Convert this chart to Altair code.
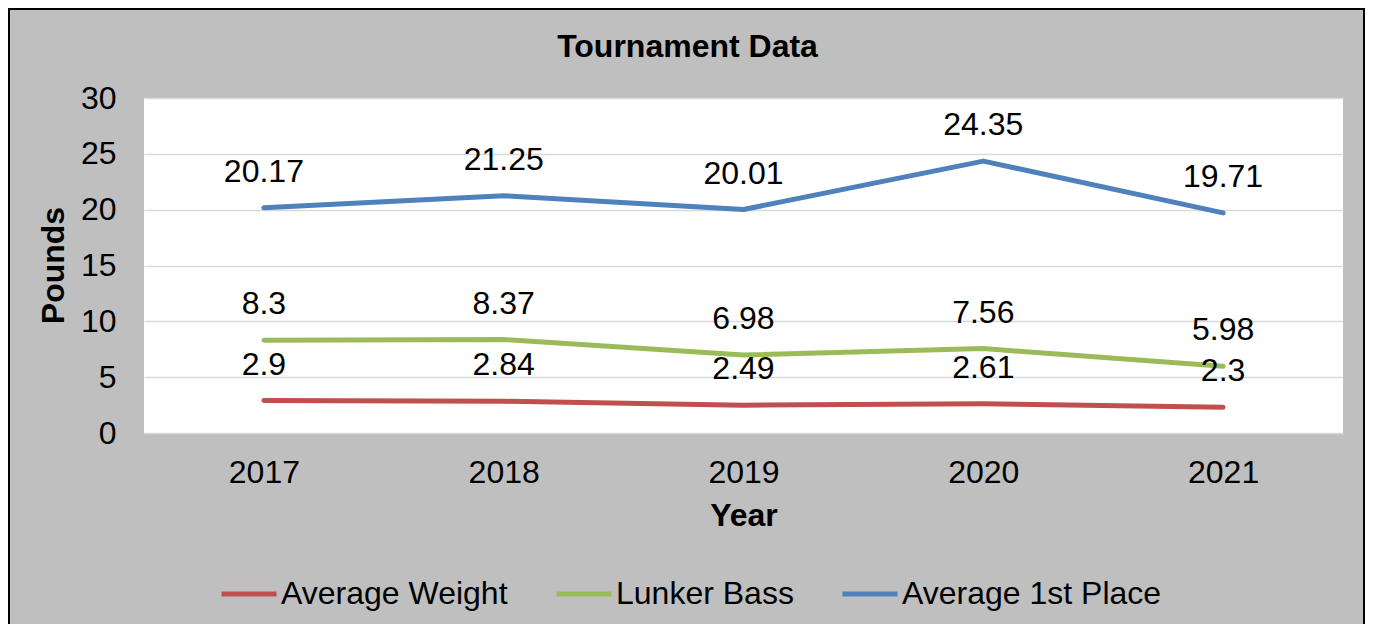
import altair as alt
import pandas as pd

years = ["2017", "2018", "2019", "2020", "2021"]
series_names = ["Average Weight", "Lunker Bass", "Average 1st Place"]
avg_weight = [2.9, 2.84, 2.49, 2.61, 2.3]
lunker_bass = [8.3, 8.37, 6.98, 7.56, 5.98]
avg_first = [20.17, 21.25, 20.01, 24.35, 19.71]
y_ticks = [0, 5, 10, 15, 20, 25, 30]
colors = ["#C0504D", "#9BBB59", "#4F81BD"]

rows = []
for name, vals in zip(series_names, [avg_weight, lunker_bass, avg_first]):
    for yr, v in zip(years, vals):
        rows.append({"Year": yr, "Series": name, "Pounds": v, "Label": f"{v:g}"})
df = pd.DataFrame(rows)

FONT = "Liberation Sans"
FS = 32
W, H = 1199, 335

x_enc = alt.X("Year:N", sort=years,
              scale=alt.Scale(type="point", padding=0.5),
              axis=alt.Axis(title="Year", labelAngle=0, ticks=False, domain=False,
                            grid=False, labelPadding=24, labelFontSize=FS,
                            labelFont=FONT, labelColor="black",
                            titleFont=FONT, titleFontSize=FS, titleFontWeight="bold",
                            titleColor="black", titleBaseline="alphabetic",
                            titleY=92))
y_enc = alt.Y("Pounds:Q", scale=alt.Scale(domain=[0, 30], nice=False),
              axis=alt.Axis(title="Pounds", values=y_ticks, ticks=False, domain=False,
                            grid=True, gridColor="#D9D9D9", gridWidth=1.5,
                            labelPadding=28, labelFontSize=FS, labelFont=FONT,
                            labelColor="black", titleFont=FONT, titleFontSize=FS,
                            titleFontWeight="bold", titleColor="black",
                            titleAngle=-90, titleBaseline="alphabetic",
                            titleX=-81, titleY=167, titleAlign="center"))

color_enc = alt.Color("Series:N",
                      scale=alt.Scale(domain=series_names, range=colors),
                      legend=alt.Legend(title=None, orient="none", direction="horizontal",
                                        legendX=75, legendY=466,
                                        symbolType="stroke", symbolSize=3025,
                                        symbolStrokeWidth=5, labelFontSize=FS,
                                        labelFont=FONT, labelColor="black",
                                        labelOffset=2, columnPadding=38,
                                        labelLimit=0))

lines = alt.Chart(df).mark_line(strokeWidth=5, strokeCap="round", strokeJoin="round").encode(
    x=x_enc, y=y_enc, color=color_enc, detail="Series:N")

labels = alt.Chart(df).mark_text(dy=-36, baseline="middle", align="center",
                                 font=FONT, fontSize=FS, color="black").encode(
    x=alt.X("Year:N", sort=years), y="Pounds:Q", text="Label:N")

border = alt.Chart(pd.DataFrame({"k": [0]})).mark_rect(
    fillOpacity=0, stroke="black", strokeWidth=2).encode(
    x=alt.value(-135), x2=alt.value(1220), y=alt.value(-89), y2=alt.value(560))

chart = alt.layer(lines, labels, border).properties(
    width=W, height=H,
    title=alt.TitleParams("Tournament Data", font=FONT, fontSize=FS, fontWeight="bold",
                          color="black", anchor="middle", frame="group",
                          baseline="alphabetic", offset=0, dy=81, dx=-56),
    padding={"left": 136, "top": 90, "right": 22, "bottom": 191},
    autosize=alt.AutoSizeParams(type="none"),
).configure(background="#BFBFBF").configure_view(fill="white", stroke=None)

chart.save("out.html", embed_options={"renderer": "svg", "actions": False})
